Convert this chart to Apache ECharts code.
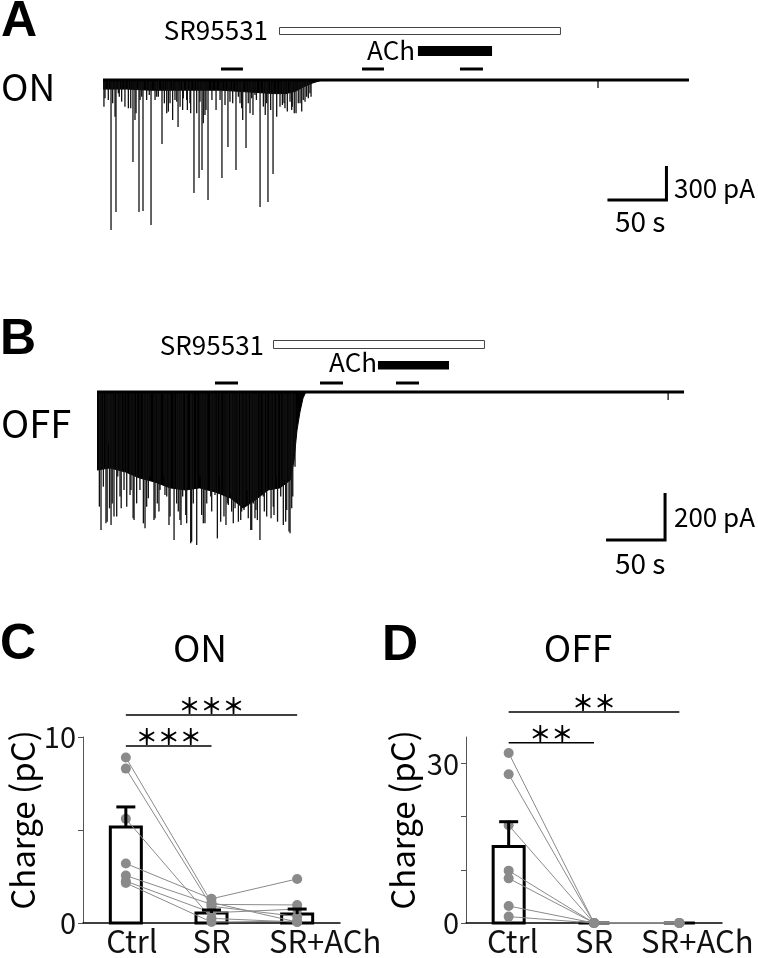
<!DOCTYPE html>
<html><head><meta charset="utf-8">
<script src="https://cdn.jsdelivr.net/npm/echarts@6/dist/echarts.min.js"></script>
<style>html,body{margin:0;padding:0;background:#fff}#c{width:758px;height:958px}</style>
</head><body><div id="c"></div>
<script>
// ================= DATA =================
// Panel A (ON cell) — time in s, inward current amplitude in pA
const traceA_duration = 496.6;
const spikesA_time = [0.8,1.7,4.5,6.8,8.2,10.2,11.0,13.0,13.8,15.8,18.6,21.5,23.5,25.4,27.1,28.0,30.5,31.4,32.8,33.9,37.0,39.2,40.7,44.1,45.5,46.9,50.0,52.0,54.0,55.4,56.8,59.0,61.0,62.5,63.6,65.3,67.5,68.1,70.9,71.5,73.7,74.3,77.1,79.4,81.4,82.2,83.9,85.0,86.4,87.3,89.0,92.3,95.8,99.2,100.8,103.4,105.9,107.6,109.9,112.7,114.7,116.1,117.5,118.4,121.2,123.1,124.6,126.0,127.1,128.8,130.0,133.1,135.9,137.5,138.7,139.8,142.1,144.1,147.2,150.0,152.0,153.4,154.2,156.2,158.5,159.9,160.4,162.1,163.6,165.5,167.0,168.4,169.7,171.2,172.6,174.0,175.4,176.3,419.5];
const spikesA_amp  = [235,162,176,1324,206,324,1165,118,147,191,235,250,250,724,353,294,1165,176,147,1156,176,132,1279,176,147,147,565,206,294,279,206,353,176,191,415,235,265,162,176,265,206,294,997,294,865,191,794,382,309,265,1059,176,265,176,865,221,591,191,206,794,147,206,250,353,600,206,294,162,309,132,176,1121,235,309,206,1076,265,829,324,235,221,206,250,279,191,265,235,294,294,206,206,279,176,191,147,162,118,147,70];
const burstA_time  = [0,20,40,60,80,100,115,130,145,155,163,170,178,186];
const burstA_amp   = [80,80,90,90,90,90,100,110,120,120,100,60,25,0];
const srA  = [149.2, 387.3];
const achA = [266.9, 329.7];
const windowsA = [[100,118.6],[219.5,238.1],[302.5,322.0]];
const scaleA = [50, 300]; // s, pA

// Panel B (OFF cell)
const traceB_duration = 497.5;
const spikesB_time = [2.0,3.4,5.4,7.6,8.6,9.6,10.6,11.9,12.9,14.4,16.7,17.6,19.5,20.5,22.9,25.2,28.0,28.8,30.6,31.4,33.6,36.4,39.3,40.7,42.1,43.5,44.9,48.3,49.2,51.1,52.5,53.4,56.8,57.6,59.1,61.0,61.9,65.3,67.5,68.9,70.3,71.2,72.6,75.2,76.0,79.4,80.2,81.6,84.5,87.3,88.7,90.1,91.5,93.0,96.4,97.2,98.6,100.0,102.0,104.2,104.8,107.6,109.3,110.4,111.3,113.3,114.1,115.5,117.0,118.9,119.8,121.8,122.6,124.6,125.4,127.4,128.2,130.3,131.1,132.5,133.9,134.7,135.9,138.1,140.9,141.8,143.8,146.6,147.5,149.4,150.0,152.3,153.0,155.7,157.9,158.5,159.9,160.8,162.7,163.6,165.0,165.9,167.8,484.0];
const spikesB_amp  = [488,587,403,559,552,218,495,566,474,530,530,360,445,495,417,488,438,417,537,545,474,417,559,580,488,452,360,545,537,474,509,417,360,438,445,566,530,630,474,509,545,566,445,523,559,644,637,474,651,360,523,559,559,474,445,509,417,438,623,360,552,530,566,474,481,431,509,559,495,460,552,545,509,502,481,417,537,587,587,474,537,502,545,630,445,509,530,417,537,488,523,360,552,445,566,374,552,502,594,601,495,445,318,34];
const burstB_time  = [0,11,24,36,49,62,75,87,100,113,124,134,145,155,164,167,169.5,172,174.6,177];
const burstB_amp   = [332,323,340,366,383,408,417,408,425,451,494,460,417,408,374,289,162,85,26,0];
const srB  = [149.2, 328.0];
const achB = [238.1, 298.3];
const windowsB = [[100,119.5],[189,208.5],[253.4,272.9]];
const scaleB = [50, 200];

// Panels C/D — charge (pC)
const categories = ['Ctrl','SR','SR+ACh'];
const onMean = [5.16, 0.54, 0.48];
const onSem  = [1.08, 0.16, 0.27];
const onCells = [
  [8.9, 1.1, 0.05],
  [8.3, 0.9, 0.35],
  [5.6, 0.25, 0.05],
  [3.2, 1.3, 2.37],
  [2.55, 1.0, 0.97],
  [2.25, 0.55, 0.75],
  [2.15, 0.05, 0.1]
];
const offMean = [14.4, 0, 0];
const offSem  = [4.66, 0, 0];
const offCells = [
  [32.0, 0, 0],
  [28.0, 0, 0],
  [18.4, 0, 0],
  [9.85, 0, 0],
  [8.4, 0, 0],
  [3.2, 0, 0],
  [1.2, 0, 0]
];
const onComparisons  = [[0,1,'＊＊＊'],[0,2,'＊＊＊']];
const offComparisons = [[0,1,'＊＊'],[0,2,'＊＊']];

// ================= LAYOUT / STYLE =================
const FONT = '"Noto Sans CJK JP","Noto Sans",sans-serif';
const BOLD = '"Liberation Sans",Arial,sans-serif';
const L = {
  A: {grid:{left:103, top:74.33, width:590, height:164.33}, yMin:-1400, yMax:50,
      srTop:27, srH:7, achTop:46, achH:10, winY:69, corner:[477.5,-1059]},
  B: {grid:{left:97, top:384.95, width:590, height:166.85}, yMin:-680, yMax:30,
      srTop:340, srH:8, achTop:361, achH:8.5, winY:383, corner:[481.4,-629.8]},
  C: {grid:{left:83, top:737, width:257, height:186}, yMax:10, sig:[9.52, 11.18], labelPad:[12, 0, 56]},
  D: {grid:{left:466, top:737, width:256, height:186}, yMax:35, sig:[33.9, 39.7], labelPad:[8, 0, 36]}
};
const DOT = '#8a8a8a';

const chart = echarts.init(document.getElementById('c'), null, {renderer:'canvas', width:758, height:958});

function spikeSeries(ai, times, amps) {
  return {
    type:'custom', xAxisIndex:ai, yAxisIndex:ai, clip:false, silent:true, z:3,
    data: times.map((t,i)=>[t, -amps[i]]),
    renderItem(params, api) {
      const p0 = api.coord([api.value(0), 0]);
      const p1 = api.coord([api.value(0), api.value(1)]);
      return {type:'line', shape:{x1:p0[0], y1:p0[1], x2:p1[0], y2:p1[1]},
              style:{stroke:'#111', lineWidth:1.3}};
    }
  };
}
function burstSeries(ai, times, amps) {
  return {
    type:'line', xAxisIndex:ai, yAxisIndex:ai, silent:true, symbol:'none', z:2,
    data: times.map((t,i)=>[t, -amps[i]]),
    lineStyle:{color:'#000', width:1}, areaStyle:{color:'#000', opacity:1}
  };
}
function baselineSeries(ai, dur) {
  return {
    type:'line', xAxisIndex:ai, yAxisIndex:ai, silent:true, symbol:'none', z:4,
    data:[[0,0],[dur,0]], lineStyle:{color:'#000', width:3}
  };
}
function drugSeries(ai, sr, ach, wins, lay) {
  const data = [[sr[0], sr[1], 0], [ach[0], ach[1], 1]].concat(wins.map(w=>[w[0], w[1], 2]));
  return {
    type:'custom', xAxisIndex:ai, yAxisIndex:ai, clip:false, silent:true, z:5, data,
    renderItem(params, api) {
      const x0 = api.coord([api.value(0), 0])[0];
      const x1 = api.coord([api.value(1), 0])[0];
      const k = api.value(2);
      if (k === 0) return {type:'rect', shape:{x:Math.round(x0)+0.5, y:lay.srTop+0.5, width:x1-x0, height:lay.srH},
                            style:{fill:'#fff', stroke:'#444', lineWidth:1}};
      if (k === 1) return {type:'rect', shape:{x:x0, y:lay.achTop, width:x1-x0, height:lay.achH},
                            style:{fill:'#000'}};
      return {type:'line', shape:{x1:x0, y1:lay.winY, x2:x1, y2:lay.winY}, style:{stroke:'#000', lineWidth:3}};
    }
  };
}
function scaleSeries(ai, sc, lay) {
  return {
    type:'custom', xAxisIndex:ai, yAxisIndex:ai, clip:false, silent:true, z:5,
    data:[[sc[0], sc[1]]],
    renderItem(params, api) {
      const c = lay.corner;
      const pc = api.coord(c);
      const pl = api.coord([c[0]-api.value(0), c[1]]);
      const pt = api.coord([c[0], c[1]+api.value(1)]);
      return {type:'polyline', shape:{points:[pl, pc, pt]},
              style:{stroke:'#000', lineWidth:3, fill:null, lineJoin:'miter'}};
    }
  };
}
function barSeries(ai, means) {
  return {
    type:'custom', xAxisIndex:ai, yAxisIndex:ai, clip:false, silent:true, z:2,
    data: means.map((m,i)=>[i, m]),
    renderItem(params, api) {
      const top = api.coord([api.value(0), api.value(1)]);
      const base = api.coord([api.value(0), 0]);
      const w = 31;
      return {type:'rect', shape:{x:top[0]-w/2, y:top[1], width:w, height:base[1]-top[1]},
              style:{fill:'#fff', stroke:'#000', lineWidth:3}};
    }
  };
}
function errSeries(ai, means, sems) {
  return {
    type:'custom', xAxisIndex:ai, yAxisIndex:ai, clip:false, silent:true, z:6,
    data: means.map((m,i)=>[i, m, sems[i]]),
    renderItem(params, api) {
      if (!(api.value(2) > 0)) return null;
      const a = api.coord([api.value(0), api.value(1)]);
      const b = api.coord([api.value(0), api.value(1)+api.value(2)]);
      const cw = 19;
      return {type:'group', children:[
        {type:'line', shape:{x1:a[0], y1:a[1], x2:b[0], y2:b[1]}, style:{stroke:'#000', lineWidth:3}},
        {type:'line', shape:{x1:b[0]-cw/2, y1:b[1], x2:b[0]+cw/2, y2:b[1]}, style:{stroke:'#000', lineWidth:3}}
      ]};
    }
  };
}
function cellSeries(ai, cells) {
  return cells.map(c => ({
    type:'line', xAxisIndex:ai, yAxisIndex:ai, silent:true, z:4,
    data:c, symbol:'circle', symbolSize:10, showSymbol:true,
    lineStyle:{color:DOT, width:1}, itemStyle:{color:DOT}
  }));
}
function sigSeries(ai, comps, levels) {
  return {
    type:'custom', xAxisIndex:ai, yAxisIndex:ai, clip:false, silent:true, z:6,
    data: comps.map((c,i)=>[c[0], c[1], i]),
    renderItem(params, api) {
      const i = api.value(2);
      const p0 = api.coord([api.value(0), levels[i]]);
      const p1 = api.coord([api.value(1), levels[i]]);
      return {type:'group', children:[
        {type:'line', shape:{x1:p0[0], y1:p0[1], x2:p1[0], y2:p1[1]}, style:{stroke:'#000', lineWidth:1.5}},
        {type:'text', x:(p0[0]+p1[0])/2, y:p0[1]-9.5,
         style:{text:comps[i][2], fontSize:22, fontWeight:'bold', fontFamily:FONT, fill:'#000', align:'center', verticalAlign:'middle'}}
      ]};
    }
  };
}
function catX(gi, pad) {
  const rich = {};
  pad.forEach((p, i) => { rich['p' + i] = {padding:[0,0,0,p], fontSize:31, fontFamily:FONT, color:'#111'}; });
  return {gridIndex:gi, type:'category', data:categories,
    axisLine:{lineStyle:{color:'#000', width:1.5}},
    axisTick:{alignWithLabel:true, length:4, lineStyle:{color:'#000', width:1}},
    axisLabel:{interval:0, fontSize:31, color:'#111', margin:3, fontFamily:FONT, hideOverlap:false,
      formatter:(v, idx) => '{p' + idx + '|' + v + '}', rich:rich},
    splitLine:{show:false}};
}
function valY(gi, max, interval, ticks, labels) {
  return {gridIndex:gi, type:'value', min:0, max:max, interval:interval,
    axisLine:{show:true, lineStyle:{color:'#555', width:1}},
    axisTick:{show:true, length:5, lineStyle:{color:'#555'}, customValues:ticks},
    axisLabel:{fontSize:29, color:'#111', margin:7, fontFamily:FONT, customValues:labels,
      formatter: v => labels.indexOf(v) >= 0 ? String(v) : ''},
    splitLine:{show:false}};
}

function txt(text, x, y, size, opts) {
  opts = opts || {};
  return {type:'text', x:x, y:y, rotation:opts.rot || 0, silent:true,
    style:{text:text, fontSize:size, fontFamily:opts.family || FONT, fontWeight:opts.weight || 'normal',
           fill:'#000', align:opts.align || 'left', verticalAlign:'middle'}};
}

const option = {
  animation:false,
  backgroundColor:'#fff',
  grid:[L.A.grid, L.B.grid, L.C.grid, L.D.grid].map(g=>Object.assign({containLabel:false}, g)),
  xAxis:[
    {gridIndex:0, type:'value', min:0, max:500, show:false},
    {gridIndex:1, type:'value', min:0, max:500, show:false},
    catX(2, L.C.labelPad), catX(3, L.D.labelPad)
  ],
  yAxis:[
    {gridIndex:0, type:'value', min:L.A.yMin, max:L.A.yMax, show:false},
    {gridIndex:1, type:'value', min:L.B.yMin, max:L.B.yMax, show:false},
    valY(2, L.C.yMax, 5, [0,5,10], [0,10]),
    valY(3, L.D.yMax, 10, [0,10,20,30], [0,30])
  ],
  series:[
    burstSeries(0, burstA_time, burstA_amp),
    spikeSeries(0, spikesA_time, spikesA_amp),
    baselineSeries(0, traceA_duration),
    drugSeries(0, srA, achA, windowsA, L.A),
    scaleSeries(0, scaleA, L.A),
    burstSeries(1, burstB_time, burstB_amp),
    spikeSeries(1, spikesB_time, spikesB_amp),
    baselineSeries(1, traceB_duration),
    drugSeries(1, srB, achB, windowsB, L.B),
    scaleSeries(1, scaleB, L.B),
    barSeries(2, onMean),
    ...cellSeries(2, onCells),
    errSeries(2, onMean, onSem),
    sigSeries(2, onComparisons, L.C.sig),
    barSeries(3, offMean),
    ...cellSeries(3, offCells),
    errSeries(3, offMean, offSem),
    sigSeries(3, offComparisons, L.D.sig)
  ],
  graphic:[
    txt('A', 1, 22, 50, {family:BOLD, weight:'bold'}),
    txt('ON', 1, 87, 37),
    txt('SR95531', 268, 30, 26, {align:'right'}),
    txt('ACh', 415, 50, 26, {align:'right'}),
    txt('300 pA', 674, 188, 26),
    txt('50 s', 615, 221, 28),
    txt('B', 0, 340, 50, {family:BOLD, weight:'bold'}),
    txt('OFF', 1, 424, 38),
    txt('SR95531', 264, 345, 26, {align:'right'}),
    txt('ACh', 377, 362, 26, {align:'right'}),
    txt('200 pA', 674, 517, 26),
    txt('50 s', 615, 563, 28),
    txt('C', 0, 645, 50, {family:BOLD, weight:'bold'}),
    txt('ON', 200, 648, 37, {align:'center'}),
    txt('D', 382, 646, 50, {family:BOLD, weight:'bold'}),
    txt('OFF', 578, 648, 37, {align:'center'}),
    txt('Charge (pC)', 22, 820, 33, {align:'center', rot:Math.PI/2}),
    txt('Charge (pC)', 402, 820, 33, {align:'center', rot:Math.PI/2})
  ]
};
chart.setOption(option);
</script>
</body></html>
